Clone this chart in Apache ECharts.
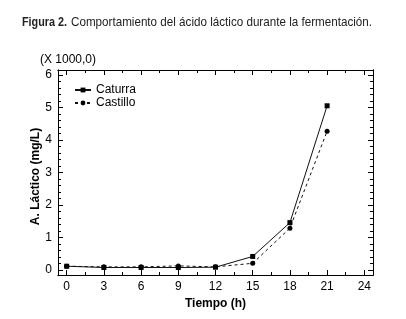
<!DOCTYPE html>
<html>
<head>
<meta charset="utf-8">
<script src="https://cdn.jsdelivr.net/npm/echarts@6/dist/echarts.min.js"></script>
<style>
html,body{margin:0;padding:0;background:#fff;}
#chart{width:406px;height:319px;}
</style>
</head>
<body>
<div id="chart"></div>
<script>
const hours = [0, 3, 6, 9, 12, 15, 18, 21];
const caturra = [0.12, 0.08, 0.08, 0.08, 0.09, 0.42, 1.46, 5.05];
const castillo = [0.12, 0.10, 0.10, 0.13, 0.10, 0.21, 1.29, 4.27];
const xTicks = [0, 3, 6, 9, 12, 15, 18, 21, 24];
const xMinorTicks = [1.5, 4.5, 7.5, 10.5, 13.5, 16.5, 19.5, 22.5];
const yTicks = [0, 1, 2, 3, 4, 5, 6];
const yMinorTicks = [];
for (let i = 0; i < 6; i++) { for (let k = 1; k < 5; k++) yMinorTicks.push(+(i + k * 0.2).toFixed(2)); }
const titleBold = 'Figura 2.';
const titleRest = 'Comportamiento del ácido láctico durante la fermentación.';

const FONT = '"Liberation Sans", Arial, sans-serif';
const xMin = -0.7, xMax = 24.7, yMin = -0.15, yMax = 6.15;
const lineStyleAxis = { color: '#000', width: 1 };

// narrow title: scale horizontally to the reference width
const cv = document.createElement('canvas').getContext('2d');
cv.font = 'bold 13px ' + FONT;
const wBold = cv.measureText(titleBold).width;
cv.font = '13px ' + FONT;
const wRest = cv.measureText(titleRest).width;
const sBold = 45 / wBold;
const sRest = 301 / wRest;

function xAx(position, ticks, len, labels, extra) {
  return Object.assign({
    type: 'value', position: position, min: xMin, max: xMax,
    axisLine: { show: true, onZero: false, lineStyle: lineStyleAxis },
    axisTick: { show: true, inside: true, length: len, customValues: ticks, lineStyle: lineStyleAxis },
    axisLabel: labels ? { show: true, customValues: ticks, color: '#000', fontSize: 12, fontFamily: FONT, margin: 6 } : { show: false },
    splitLine: { show: false }
  }, extra || {});
}
function yAx(position, ticks, len, labels, extra) {
  return Object.assign({
    type: 'value', position: position, min: yMin, max: yMax,
    axisLine: { show: true, onZero: false, lineStyle: lineStyleAxis },
    axisTick: { show: true, inside: true, length: len, customValues: ticks, lineStyle: lineStyleAxis },
    axisLabel: labels ? { show: true, customValues: ticks, color: '#000', fontSize: 12, fontFamily: FONT, margin: 6 } : { show: false },
    splitLine: { show: false }
  }, extra || {});
}

const chart = echarts.init(document.getElementById('chart'), null, { renderer: 'canvas' });
chart.setOption({
  animation: false,
  backgroundColor: '#fff',
  graphic: [
    {
      type: 'text', x: 22, y: 22, scaleX: sBold,
      style: { text: titleBold, fill: '#222', font: 'bold 13px ' + FONT, textVerticalAlign: 'middle' }
    },
    {
      type: 'text', x: 71, y: 22, scaleX: sRest,
      style: { text: titleRest, fill: '#222', font: '13px ' + FONT, textVerticalAlign: 'middle' }
    },
    {
      type: 'text', left: 40, top: 54,
      style: { text: '(X 1000,0)', fill: '#000', font: '12px ' + FONT }
    }
  ],
  legend: {
    left: 69, top: 79, orient: 'vertical', itemGap: 1, itemWidth: 16, itemHeight: 6,
    textStyle: { color: '#000', fontSize: 12, fontFamily: FONT },
    data: ['Caturra', 'Castillo']
  },
  grid: { left: 58, right: 33, top: 70, bottom: 44, containLabel: false },
  xAxis: [
    xAx('bottom', xTicks, 5, true, {
      name: 'Tiempo (h)', nameLocation: 'middle', nameGap: 23,
      nameTextStyle: { color: '#000', fontSize: 12, fontWeight: 'bold', fontFamily: FONT }
    }),
    xAx('bottom', xMinorTicks, 3, false),
    xAx('top', xTicks, 5, false),
    xAx('top', xMinorTicks, 3, false)
  ],
  yAxis: [
    yAx('left', yTicks, 5, true, {
      name: 'A. Láctico (mg/L)', nameLocation: 'middle', nameGap: 16, nameRotate: 90,
      nameMoveOverlap: false,
      nameTextStyle: { color: '#000', fontSize: 12, fontWeight: 'bold', fontFamily: FONT, padding: [0, 8, 0, 0] }
    }),
    yAx('left', yMinorTicks, 3, false),
    yAx('right', yTicks, 5, false),
    yAx('right', yMinorTicks, 3, false)
  ],
  series: [
    {
      name: 'Caturra', type: 'line', xAxisIndex: 0, yAxisIndex: 0,
      data: hours.map((h, i) => [h, caturra[i]]),
      symbol: 'rect', symbolSize: 5, showSymbol: true,
      lineStyle: { color: '#111', width: 1, type: 'solid' },
      itemStyle: { color: '#000' }
    },
    {
      name: 'Castillo', type: 'line', xAxisIndex: 0, yAxisIndex: 0,
      data: hours.map((h, i) => [h, castillo[i]]),
      symbol: 'circle', symbolSize: 5, showSymbol: true,
      lineStyle: { color: '#111', width: 1, type: [3, 3] },
      itemStyle: { color: '#000' }
    }
  ]
});
</script>
</body>
</html>
